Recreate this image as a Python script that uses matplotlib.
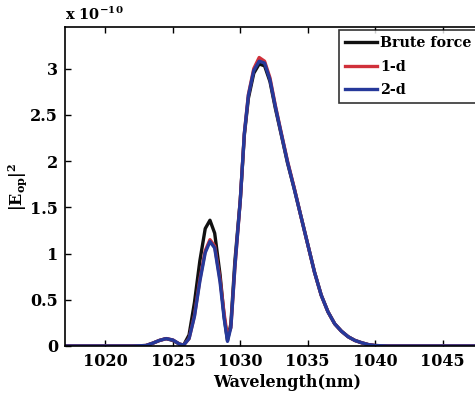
import matplotlib
matplotlib.use("Agg")
import matplotlib.pyplot as plt

plt.rcParams['font.family'] = ['DejaVu Serif']
plt.rcParams['font.weight'] = 'bold'
plt.rcParams['mathtext.fontset'] = 'dejavuserif'
plt.rcParams['mathtext.default'] = 'bf'

wl = [1017, 1018, 1019, 1020, 1021, 1022, 1023, 1023.5, 1024, 1024.5, 1025, 1025.5,
      1025.8, 1026.2, 1026.6, 1027, 1027.4, 1027.75, 1028.1, 1028.5, 1028.8, 1029.05,
      1029.3, 1029.6, 1030, 1030.3, 1030.6, 1031, 1031.4, 1031.8, 1032.2, 1032.6,
      1033, 1033.5, 1034, 1034.5, 1035, 1035.5, 1036, 1036.5, 1037, 1037.5, 1038,
      1038.5, 1039, 1039.5, 1040, 1041, 1042, 1044, 1046, 1048, 1050]

brute = [0, 0, 0, 0, 0, 0, 0.005, 0.03, 0.06, 0.08, 0.06, 0.02,
         0.01, 0.12, 0.47, 0.92, 1.27, 1.36, 1.22, 0.77, 0.32, 0.06,
         0.24, 0.92, 1.58, 2.28, 2.68, 2.95, 3.05, 3.03, 2.86, 2.57,
         2.31, 1.98, 1.7, 1.4, 1.1, 0.8, 0.55, 0.37, 0.24, 0.16, 0.1,
         0.06, 0.035, 0.015, 0.005, 0, 0, 0, 0, 0, 0]

one_d = [0, 0, 0, 0, 0, 0, 0.005, 0.03, 0.06, 0.08, 0.065, 0.02,
         0.01, 0.08, 0.33, 0.72, 1.03, 1.15, 1.08, 0.72, 0.35, 0.1,
         0.2, 0.85, 1.58, 2.3, 2.72, 3.0, 3.12, 3.08, 2.9, 2.6,
         2.33, 2.0, 1.71, 1.4, 1.1, 0.8, 0.55, 0.37, 0.24, 0.16, 0.1,
         0.06, 0.035, 0.015, 0.005, 0, 0, 0, 0, 0, 0]

two_d = [0, 0, 0, 0, 0, 0, 0.005, 0.03, 0.06, 0.08, 0.065, 0.02,
         0.01, 0.08, 0.32, 0.7, 1.01, 1.13, 1.06, 0.69, 0.3, 0.05,
         0.2, 0.86, 1.58, 2.3, 2.71, 2.98, 3.08, 3.06, 2.88, 2.59,
         2.32, 1.99, 1.7, 1.4, 1.1, 0.8, 0.55, 0.37, 0.24, 0.16, 0.1,
         0.06, 0.035, 0.015, 0.005, 0, 0, 0, 0, 0, 0]

xticks = [1020, 1025, 1030, 1035, 1040, 1045]
yticks = [0, 0.5, 1, 1.5, 2, 2.5, 3]
ytick_labels = ['0', '0.5', '1', '1.5', '2', '2.5', '3']

fig = plt.figure(figsize=(4.75, 4.0), dpi=100)
ax = fig.add_axes([65/475, 54/400, 445/475, 319/400])

ax.plot(wl, brute, color='#111111', lw=2.4, label='Brute force')
ax.plot(wl, one_d, color='#d0303a', lw=2.4, label='1-d')
ax.plot(wl, two_d, color='#26399a', lw=2.4, label='2-d')

ax.set_xlim(1017, 1050)
ax.set_ylim(0, 3.45)
ax.set_xticks(xticks)
ax.set_yticks(yticks)
ax.set_yticklabels(ytick_labels)
ax.tick_params(direction='in', length=4, width=1, labelsize=11.5, top=True, right=True, pad=5)
for s in ax.spines.values():
    s.set_linewidth(1.2)

ax.set_xlabel('Wavelength(nm)', fontsize=11.5, fontweight='bold', labelpad=3)
ax.set_ylabel(r'|E$_{op}$|$^{2}$', fontsize=11.5, fontweight='bold', labelpad=1)
ax.text(0.0, 1.012, r'x 10$^{-10}$', transform=ax.transAxes, fontsize=10.5, fontweight='bold',
        ha='left', va='bottom')

leg = ax.legend(loc='upper left', bbox_to_anchor=((339-65)/445, 1 - (30-27)/319),
                fontsize=10.3, frameon=True, fancybox=False, edgecolor='black',
                handlelength=2.2, handletextpad=0.25, borderpad=0.45, labelspacing=0.65,
                borderaxespad=0)
leg.get_frame().set_linewidth(1.2)
for t in leg.get_texts():
    t.set_fontweight('bold')

fig.savefig('out.png', dpi=100)
